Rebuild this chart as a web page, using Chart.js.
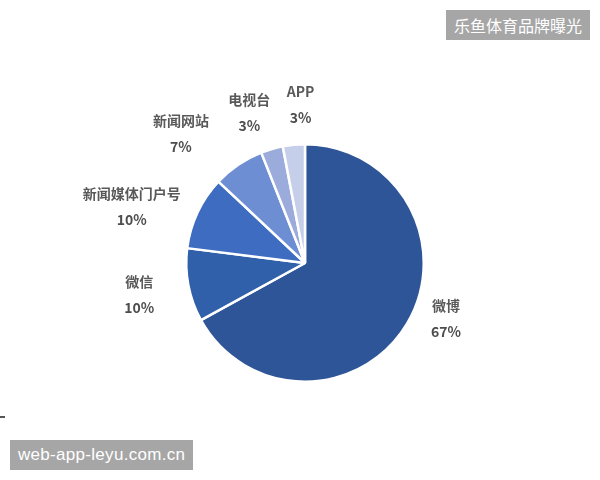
<!DOCTYPE html>
<html>
<head>
<meta charset="utf-8">
<script src="https://cdn.jsdelivr.net/npm/chart.js@4.4.1/dist/chart.umd.min.js"></script>
<style>
  html, body { margin: 0; padding: 0; background: #fff; }
  #wrap { position: relative; width: 600px; height: 480px; }
  .tag {
    position: absolute; background: #a6a6a6; color: #fff;
    font-family: "Noto Sans CJK SC", "Noto Sans", sans-serif; font-size: 16px;
    line-height: 30px; padding: 0 8px; white-space: nowrap;
  }
  #tagTop { right: 10px; top: 10px; }
  #tagBottom { left: 10px; top: 440px; font-family: "Liberation Sans", Arial, sans-serif; font-size: 17px; letter-spacing: 0.3px; }
  #dash { position: absolute; left: 0; top: 416px; width: 5px; height: 2px; background: #555; }
</style>
</head>
<body>
<div id="wrap">
  <canvas id="chart" width="600" height="480"></canvas>
  <div class="tag" id="tagTop">乐鱼体育品牌曝光</div>
  <div class="tag" id="tagBottom">web-app-leyu.com.cn</div>
  <div id="dash"></div>
</div>
<script>
/* DATA */
const categories = ["微博", "微信", "新闻媒体门户号", "新闻网站", "电视台", "APP"];
const shares = [67, 10, 10, 7, 3, 3];
const sliceColors = ["#2e5597", "#3060aa", "#3d6cc0", "#6e8ed4", "#9babdc", "#c5cfea"];

/* label nudges (px) from the plain radial spot */
const labelNudge = [[0, -28], [-5, 1], [-25, 13], [-32, 6], [-10, 7], [11, 5]];

/* LABELS */
const outsideLabels = {
  id: "outsideLabels",
  afterDatasetsDraw(chart){
    const ctx = chart.ctx;
    const arcs = chart.getDatasetMeta(0).data;
    ctx.save();
    ctx.textAlign = "center";
    ctx.textBaseline = "middle";
    arcs.forEach((arc, i) => {
      const mid = (arc.startAngle + arc.endAngle) / 2;
      const d = arc.outerRadius + 45;
      const x = arc.x + Math.cos(mid) * d + labelNudge[i][0];
      const y = arc.y + Math.sin(mid) * d + labelNudge[i][1];
      ctx.fillStyle = "#595959";
      ctx.font = "bold 14px 'Noto Sans CJK SC', sans-serif";
      ctx.fillText(categories[i], x, y - 13);
      ctx.fillStyle = "#4d4d4d";
      ctx.fillText(shares[i] + "%", x, y + 13);
    });
    ctx.restore();
  }
};

new Chart(document.getElementById("chart"), {
  type: "pie",
  data: {
    labels: categories,
    datasets: [{
      data: shares,
      backgroundColor: sliceColors,
      borderColor: "#ffffff",
      borderWidth: 2.5,
      hoverOffset: 0
    }]
  },
  options: {
    responsive: false,
    animation: false,
    layout: { padding: { left: 185, right: 175, top: 143, bottom: 97 } },
    plugins: { legend: { display: false }, tooltip: { enabled: false } }
  },
  plugins: [outsideLabels]
});
</script>
</body>
</html>
